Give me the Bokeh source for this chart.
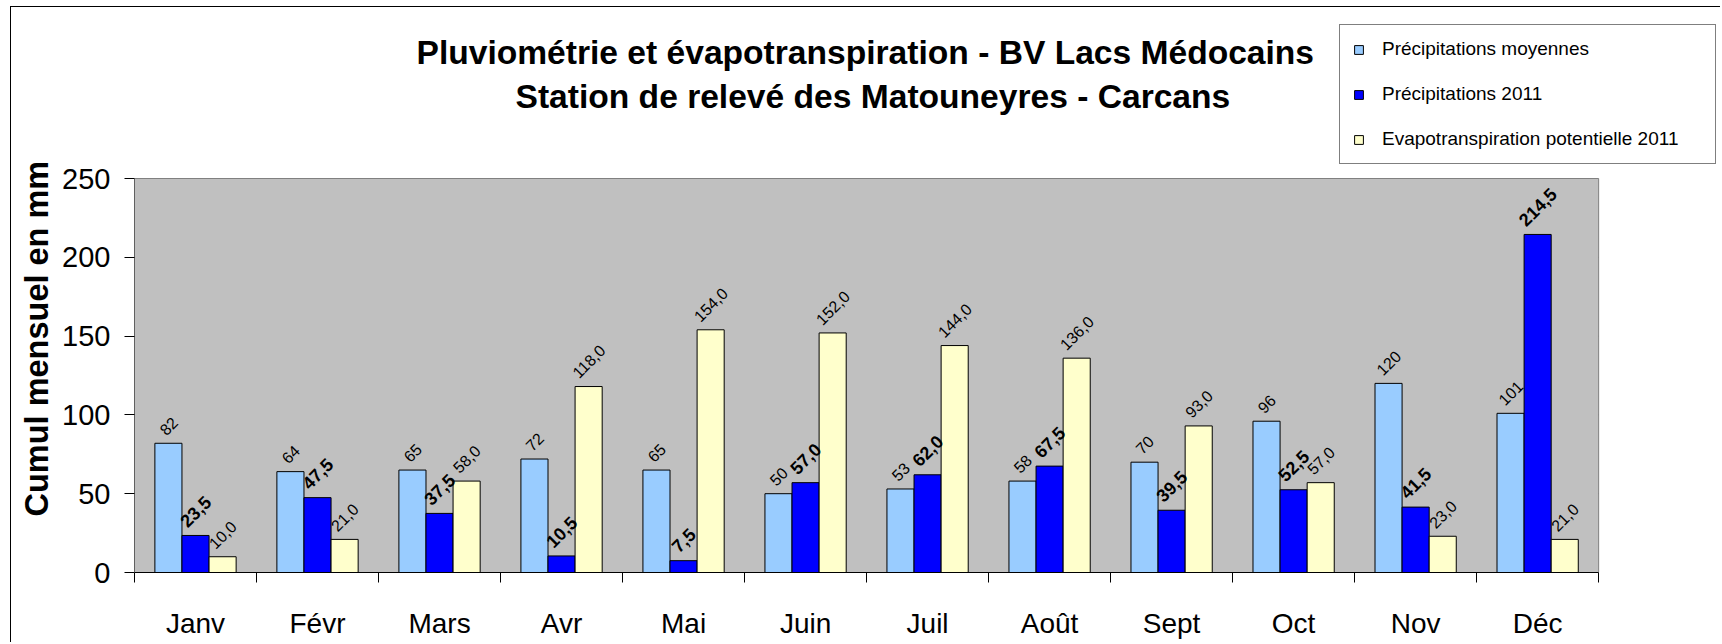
import math
from bokeh.plotting import figure
from bokeh.models import (ColumnDataSource, FixedTicker, Legend, LegendItem, Title, Range1d,
                          BoxAnnotation, Label)
from bokeh.core.properties import value
from bokeh.embed import file_html
from bokeh.resources import INLINE

# ---------------- data ----------------
months = ["Janv", "Févr", "Mars", "Avr", "Mai", "Juin", "Juil", "Août", "Sept", "Oct", "Nov", "Déc"]
precip_moy = [82, 64, 65, 72, 65, 50, 53, 58, 70, 96, 120, 101]
precip_2011 = [23.5, 47.5, 37.5, 10.5, 7.5, 57.0, 62.0, 67.5, 39.5, 52.5, 41.5, 214.5]
etp_2011 = [10.0, 21.0, 58.0, 118.0, 154.0, 152.0, 144.0, 136.0, 93.0, 57.0, 23.0, 21.0]
y_ticks = [0, 50, 100, 150, 200, 250]
series_names = ["Précipitations moyennes", "Précipitations 2011", "Evapotranspiration potentielle 2011"]
title_line1 = "Pluviométrie et évapotranspiration -  BV Lacs Médocains"
title_line2 = "Station de relevé des Matouneyres - Carcans"
y_title = "Cumul mensuel en mm"

# ---------------- styles / geometry (pixels) ----------------
FONT = "Liberation Sans"
colors = ["#99CCFF", "#0000FF", "#FFFFCC"]
bar_w = 0.222
offsets = [-bar_w, 0.0, bar_w]

W, H = 1710, 636            # canvas
BL, BT, BR = 121, 13, 5     # borders
AREA_W, AREA_H = 1466, 394  # grey plot area in pixels
FW = W - BL - BR
FH = 552
n_cat = len(months)
y_max = y_ticks[-1]

# the frame is larger than the grey plot area so that titles and legend can live in it
x_end = n_cat * FW / AREA_W
y_end = y_max * FH / AREA_H

p = figure(width=W, height=H, x_range=Range1d(0, x_end), y_range=Range1d(0, y_end),
           output_backend="svg", toolbar_location=None, title=None,
           min_border_left=BL, min_border_right=BR,
           min_border_top=BT, min_border_bottom=H - BT - FH,
           background_fill_color="white", border_fill_color="white",
           outline_line_color=None)
p.margin = (6, 0, 0, 10)
p.styles = {"border-left": "1px solid #000000", "border-top": "1px solid #000000"}

# grey plot area + horizontal grid lines
p.add_layout(BoxAnnotation(left=0, right=n_cat, bottom=0, top=y_max, level="underlay",
                           fill_color="#C0C0C0", fill_alpha=1.0,
                           line_color="#808080", line_width=1, line_alpha=1.0))
grid_src = ColumnDataSource(dict(y=y_ticks[1:-1], x0=[0] * (len(y_ticks) - 2),
                                 x1=[n_cat] * (len(y_ticks) - 2)))
p.segment(x0="x0", x1="x1", y0="y", y1="y", source=grid_src, line_color="#333333",
          line_width=1, level="underlay")
p.xgrid.grid_line_color = None
p.ygrid.grid_line_color = None

# bars
SQ2 = math.sqrt(2)


def text_width(s, f):
    return sum(0.278 if ch in ",." else 0.556 for ch in s) * f


centers = [i + 0.5 for i in range(n_cat)]
series = [precip_moy, precip_2011, etp_2011]
renderers = []
for k, (vals, col) in enumerate(zip(series, colors)):
    xs = [c + offsets[k] for c in centers]
    src = ColumnDataSource(dict(x=xs, top=vals))
    r = p.vbar(x="x", top="top", width=bar_w, source=src, fill_color=col,
               line_color="black", line_width=1)
    renderers.append(r)

# value labels
for k, vals in enumerate(series):
    xs = [c + offsets[k] for c in centers]
    if k == 0:
        labels = [f"{v:.0f}" for v in vals]
        fsize, fstyle = 16, "normal"
    elif k == 1:
        labels = [f"{v:.1f}".replace(".", ",") for v in vals]
        fsize, fstyle = 18, "bold"
    else:
        labels = [f"{v:.1f}".replace(".", ",") for v in vals]
        fsize, fstyle = 16, "normal"
    yoff = [-(7 + (text_width(s, fsize) + 0.72 * fsize) / (2 * SQ2)) for s in labels]
    lsrc = ColumnDataSource(dict(x=xs, y=vals, text=labels, yoff=yoff))
    p.text(x="x", y="y", text="text", source=lsrc, angle=math.pi / 4,
           text_align="center", text_baseline="middle", y_offset="yoff",
           text_font=value(FONT), text_font_size=value(f"{fsize}px"),
           text_font_style=fstyle, text_color="black")

# legend (inside the enlarged frame, top right)
legend = Legend(items=[LegendItem(label=n, renderers=[r]) for n, r in zip(series_names, renderers)],
                location=(1205, 408), orientation="vertical",
                padding=13, spacing=23, margin=0,
                glyph_width=11, glyph_height=11, label_standoff=18,
                label_width=320, label_height=22,
                label_text_font=FONT, label_text_font_size="19px", label_text_color="black",
                border_line_color="black", border_line_width=1,
                background_fill_color="white", background_fill_alpha=1.0)
p.add_layout(legend, "center")

# chart titles
p.add_layout(Label(x=282, y=520, x_units="screen", y_units="screen", text=title_line1,
                   text_align="left", text_baseline="middle", text_font=FONT,
                   text_font_size="33.6px", text_font_style="bold", text_color="black"))
p.add_layout(Label(x=381, y=476, x_units="screen", y_units="screen", text=title_line2,
                   text_align="left", text_baseline="middle", text_font=FONT,
                   text_font_size="33.6px", text_font_style="bold", text_color="black"))
p.add_layout(Title(text=y_title, align="left", offset=56, text_font=FONT, text_font_size="32.5px",
                   text_font_style="bold", text_color="black"), "left")

# axes
p.xaxis.bounds = (0, n_cat)
p.xaxis.ticker = FixedTicker(ticks=centers, minor_ticks=list(range(n_cat + 1)))
p.xaxis.major_label_overrides = {c: m for c, m in zip(centers, months)}
p.xaxis.major_tick_line_color = None
p.xaxis.major_tick_out = 0
p.xaxis.minor_tick_in = 0
p.xaxis.minor_tick_out = 10
p.xaxis.minor_tick_line_color = "black"
p.xaxis.axis_line_color = "black"
p.xaxis.major_label_text_font = FONT
p.xaxis.major_label_text_font_size = "28px"
p.xaxis.major_label_text_color = "black"
p.xaxis.major_label_standoff = 25

p.yaxis.bounds = (0, y_max)
p.yaxis.ticker = FixedTicker(ticks=y_ticks)
p.yaxis.major_tick_in = 0
p.yaxis.major_tick_out = 10
p.yaxis.major_tick_line_color = "black"
p.yaxis.minor_tick_line_color = None
p.yaxis.axis_line_color = "#606060"
p.yaxis.major_label_text_font = FONT
p.yaxis.major_label_text_font_size = "29px"
p.yaxis.major_label_text_color = "black"
p.yaxis.major_label_standoff = 14

open("out.html", "w").write(file_html(p, INLINE))
